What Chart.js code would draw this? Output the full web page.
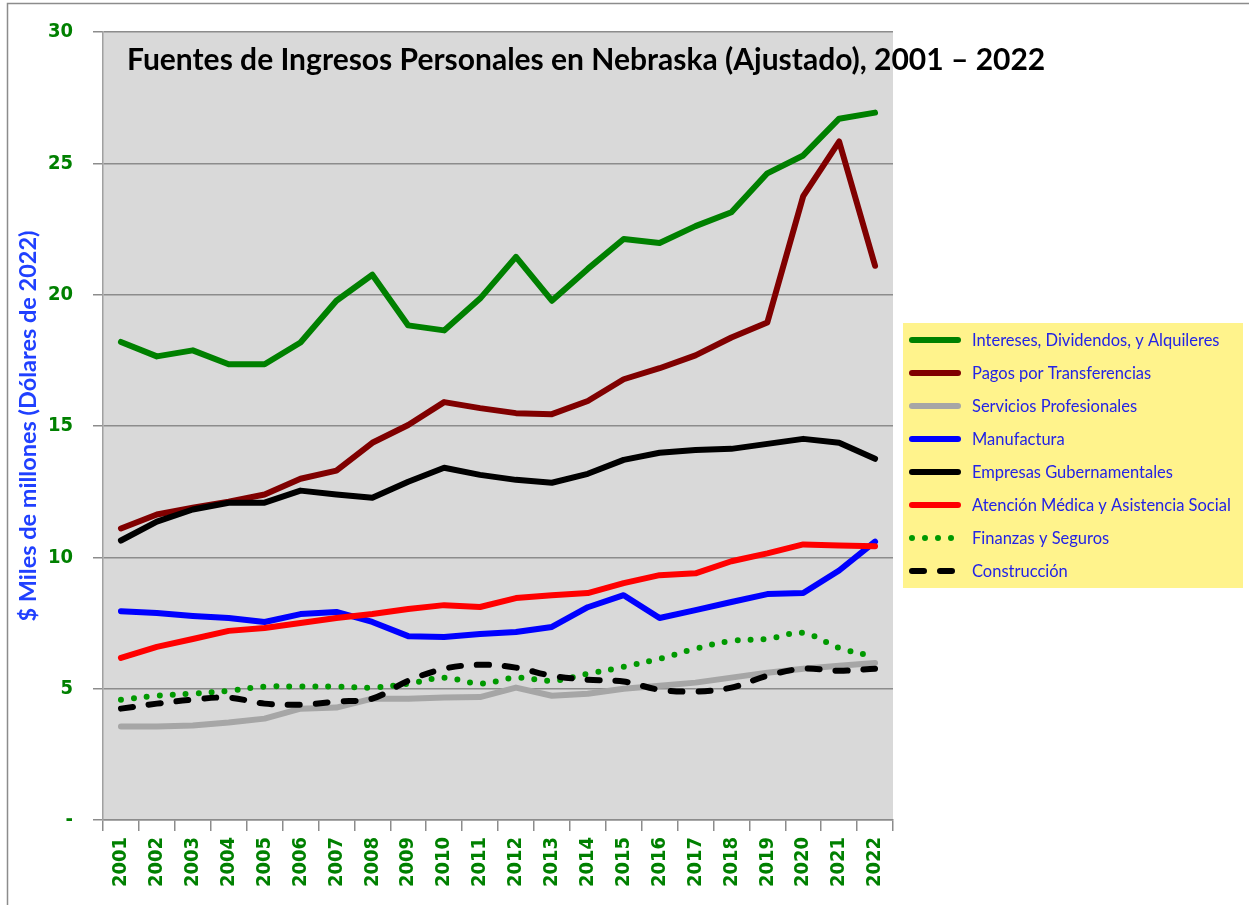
<!DOCTYPE html>
<html>
<head>
<meta charset="utf-8">
<script src="https://cdn.jsdelivr.net/npm/chart.js@4.4.1/dist/chart.umd.min.js"></script>
<style>
  html, body { margin: 0; padding: 0; background: #ffffff; }
  #wrap { width: 1249px; height: 905px; }
</style>
</head>
<body>
<div id="wrap"><canvas id="c" width="1249" height="905"></canvas></div>
<script>
const chartTitle = "Fuentes de Ingresos Personales en Nebraska (Ajustado), 2001 \u2013 2022";
const yAxisTitle = "$ Miles de millones (D\u00f3lares de 2022)";
const years = ["2001","2002","2003","2004","2005","2006","2007","2008","2009","2010","2011","2012","2013","2014","2015","2016","2017","2018","2019","2020","2021","2022"];
const seriesNames = ["Intereses, Dividendos, y Alquileres","Pagos por Transferencias","Servicios Profesionales","Manufactura","Empresas Gubernamentales","Atenci\u00f3n M\u00e9dica y Asistencia Social","Finanzas y Seguros","Construcci\u00f3n"];
const intereses   = [18.2,17.65,17.88,17.35,17.35,18.18,19.77,20.76,18.83,18.64,19.85,21.44,19.77,20.98,22.12,21.97,22.61,23.14,24.62,25.3,26.7,26.93];
const pagos       = [11.1,11.63,11.89,12.12,12.39,12.99,13.3,14.36,15.04,15.91,15.68,15.49,15.45,15.95,16.78,17.2,17.69,18.37,18.94,23.75,25.83,21.1];
const servicios   = [3.56,3.56,3.6,3.71,3.86,4.24,4.28,4.62,4.62,4.66,4.68,5.04,4.73,4.81,5.0,5.11,5.23,5.42,5.61,5.76,5.87,5.98];
const manufactura = [7.95,7.88,7.77,7.69,7.54,7.84,7.92,7.54,7.0,6.97,7.08,7.16,7.35,8.1,8.56,7.69,7.99,8.3,8.6,8.64,9.5,10.6];
const empresas    = [10.64,11.36,11.82,12.08,12.08,12.54,12.39,12.27,12.88,13.41,13.14,12.95,12.84,13.18,13.71,13.98,14.09,14.13,14.32,14.51,14.36,13.75];
const atencion    = [6.17,6.59,6.89,7.2,7.31,7.5,7.69,7.84,8.03,8.18,8.11,8.45,8.56,8.64,9.02,9.32,9.39,9.85,10.15,10.49,10.45,10.42];
const finanzas    = [4.58,4.73,4.81,4.92,5.08,5.08,5.08,5.04,5.19,5.42,5.19,5.42,5.3,5.57,5.83,6.14,6.52,6.82,6.89,7.12,6.55,6.21];
const construccion= [4.24,4.43,4.58,4.66,4.43,4.39,4.51,4.62,5.3,5.76,5.91,5.8,5.49,5.34,5.27,4.96,4.89,5.04,5.49,5.76,5.68,5.76];
const yTicks = [0,5,10,15,20,25,30];

const colors = ["#008000","#800000","#a6a6a6","#0000ff","#000000","#ff0000","#009900","#000000"];
const values = [intereses,pagos,servicios,manufactura,empresas,atencion,finanzas,construccion];
const dashes = [[],[],[],[],[],[],[0,13],[12,16]];
const tensions = [0,0,0,0,0,0,0.35,0.35];

const datasets = seriesNames.map((n,i)=>({
  label: n,
  data: values[i],
  borderColor: colors[i],
  backgroundColor: colors[i],
  borderWidth: 6,
  borderDash: dashes[i],
  borderCapStyle: 'round',
  borderJoinStyle: 'round',
  pointRadius: 0,
  tension: tensions[i],
  fill: false,
  order: -i
}));

const tickFont = { family: "'DejaVu Sans Condensed','DejaVu Sans'", weight: 'bold', size: 20 };
const gridColor = '#8c8c8c';

const decor = {
  id: 'decor',
  beforeDraw(chart) {
    const ctx = chart.ctx;
    ctx.save();
    ctx.fillStyle = '#ffffff';
    ctx.fillRect(0,0,chart.width,chart.height);
    ctx.strokeStyle = '#8c8c8c';
    ctx.lineWidth = 1.5;
    ctx.beginPath();
    ctx.moveTo(7.5, 905); ctx.lineTo(7.5, 3.5); ctx.lineTo(1249, 3.5);
    ctx.stroke();
    const a = chart.chartArea;
    ctx.fillStyle = '#d9d9d9';
    ctx.fillRect(a.left, a.top, a.right - a.left, a.bottom - a.top);
    ctx.restore();
  },
  afterDraw(chart) {
    const ctx = chart.ctx;
    ctx.save();
    // title
    ctx.fillStyle = '#000000';
    ctx.font = "bold 30px Lato";
    ctx.textBaseline = 'middle';
    ctx.textAlign = 'left';
    ctx.fillText(chartTitle, 127, 60);
    // legend
    ctx.fillStyle = '#fff38c';
    ctx.fillRect(903, 323, 340, 265);
    ctx.font = "16.5px Lato";
    chart.data.datasets.forEach((ds, i) => {
      const y = 340 + i * 33;
      ctx.save();
      ctx.strokeStyle = ds.borderColor;
      ctx.lineWidth = 6;
      ctx.lineCap = 'round';
      ctx.setLineDash(ds.borderDash);
      ctx.beginPath();
      ctx.moveTo(912, y); ctx.lineTo(958, y);
      ctx.stroke();
      ctx.restore();
      ctx.fillStyle = '#2323e6';
      ctx.fillText(ds.label, 972, y + 1);
    });
    ctx.restore();
  }
};

new Chart(document.getElementById('c'), {
  type: 'line',
  data: { labels: years, datasets },
  plugins: [decor],
  options: {
    responsive: false,
    animation: false,
    layout: { padding: { top: 28, right: 356, left: 0, bottom: 0 } },
    plugins: { legend: { display: false }, tooltip: { enabled: false }, title: { display: false } },
    scales: {
      x: {
        type: 'category',
        offset: true,
        afterFit: s => { s.height = 85; },
        grid: { offset: true, drawOnChartArea: false, drawTicks: true, tickLength: 11, color: gridColor, lineWidth: 1.5 },
        border: { color: gridColor, width: 1.5 },
        ticks: { font: tickFont, color: '#008000', maxRotation: 90, minRotation: 90, padding: 6, autoSkip: false }
      },
      y: {
        min: 0, max: 30,
        afterFit: s => { s.width = 103; },
        afterBuildTicks: s => { s.ticks = yTicks.map(v => ({ value: v })); },
        grid: { color: gridColor, lineWidth: 1.5, tickLength: 10, drawTicks: true },
        border: { color: '#a0a0a0', width: 1.5 },
        ticks: { font: tickFont, color: '#008000', padding: 20, callback: v => v === 0 ? '-' : String(v) },
        title: { display: true, text: yAxisTitle, color: '#2040ff', font: { family: 'Lato', weight: 'bold', size: 23.5 }, padding: { top: 14, bottom: 0 } }
      }
    }
  }
});
</script>
</body>
</html>
